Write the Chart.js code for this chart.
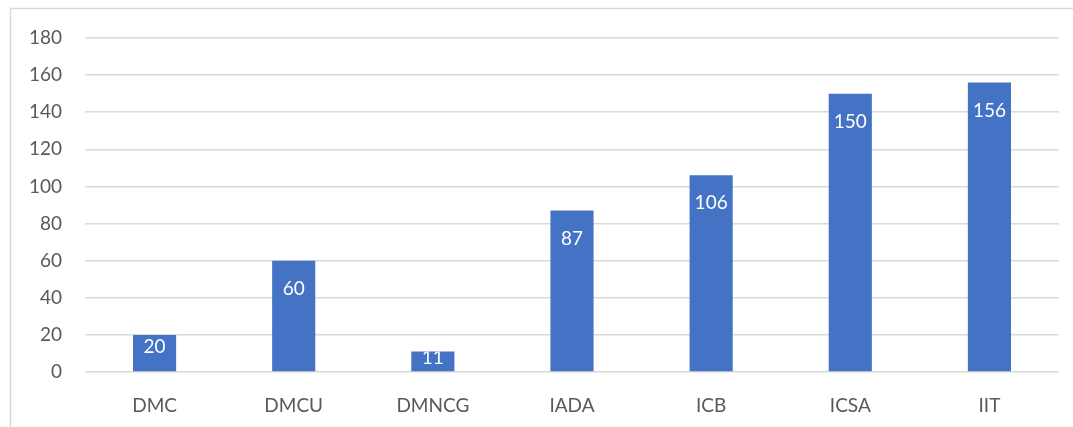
<!DOCTYPE html>
<html>
<head>
<meta charset="utf-8">
<script src="https://cdn.jsdelivr.net/npm/chart.js@4.4.0/dist/chart.umd.min.js"></script>
<style>
  html, body { margin: 0; padding: 0; background: #fff; }
  #wrap { position: relative; width: 1073px; height: 427px; }
</style>
</head>
<body>
<div id="wrap"><canvas id="barChart" width="1073" height="427"></canvas></div>
<script>
const categories = ['DMC', 'DMCU', 'DMNCG', 'IADA', 'ICB', 'ICSA', 'IIT'];
const values = [20, 60, 11, 87, 106, 150, 156];
const yTicks = [0, 20, 40, 60, 80, 100, 120, 140, 160, 180];

const FONT = 'Lato, "Open Sans", sans-serif';
const GRID = '#d9d9d9';

// frame around the chart (left + top only, like the cropped original)
const framePlugin = {
    id: 'frame',
    beforeDraw(chart) {
        const ctx = chart.ctx;
        ctx.save();
        ctx.strokeStyle = GRID;
        ctx.lineWidth = 1.5;
        ctx.beginPath();
        ctx.moveTo(10.5, 427);
        ctx.lineTo(10.5, 8.5);
        ctx.lineTo(1073, 8.5);
        ctx.stroke();
        ctx.restore();
    }
};

// white value labels inside the top of each bar (clipped to the bar, as in the original)
const valueLabels = {
    id: 'valueLabels',
    afterDatasetsDraw(chart) {
        const ctx = chart.ctx;
        const meta = chart.getDatasetMeta(0);
        ctx.save();
        ctx.fillStyle = '#ffffff';
        ctx.font = '19px ' + FONT;
        ctx.textAlign = 'center';
        ctx.textBaseline = 'middle';
        meta.data.forEach((bar, i) => {
            const top = bar.y, base = bar.base;
            const y = Math.min(top + 28, Math.max(top + 6, base - 24));
            ctx.save();
            ctx.beginPath();
            ctx.rect(bar.x - bar.width / 2, top, bar.width, base - top);
            ctx.clip();
            ctx.fillText(String(values[i]), bar.x, y);
            ctx.restore();
        });
        ctx.restore();
    }
};

new Chart(document.getElementById('barChart').getContext('2d'), {
    type: 'bar',
    data: {
        labels: categories,
        datasets: [{
            data: values,
            backgroundColor: '#4472c4',
            borderWidth: 0,
            barPercentage: 0.31,
            categoryPercentage: 1
        }]
    },
    options: {
        responsive: false,
        animation: false,
        layout: { padding: { top: 38, right: 14, bottom: 0, left: 0 } },
        plugins: { legend: { display: false }, tooltip: { enabled: false } },
        scales: {
            x: {
                grid: { display: false, drawTicks: false },
                border: { display: false },
                ticks: { color: '#595959', font: { size: 19, family: FONT }, padding: 22 },
                afterFit(scale) { scale.height = 55; }
            },
            y: {
                min: 0,
                max: 180,
                afterBuildTicks(scale) { scale.ticks = yTicks.map(v => ({ value: v })); },
                grid: { color: GRID, lineWidth: 1.5, drawTicks: false },
                border: { display: false },
                ticks: { color: '#595959', font: { size: 19, family: FONT }, padding: 23 },
                afterFit(scale) { scale.width = 85; }
            }
        }
    },
    plugins: [framePlugin, valueLabels]
});
</script>
</body>
</html>
